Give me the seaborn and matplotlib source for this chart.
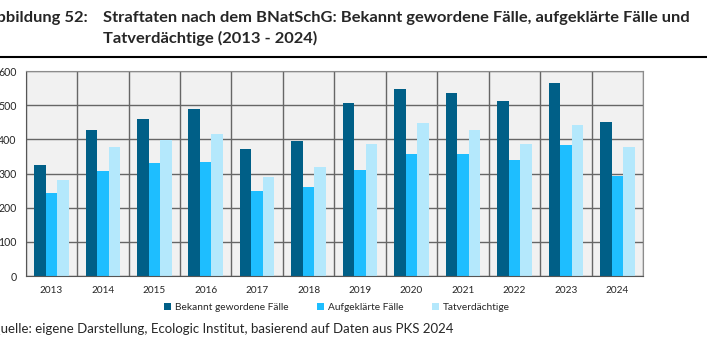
import matplotlib
matplotlib.use("Agg")
import matplotlib.pyplot as plt
import seaborn as sns
import pandas as pd
import numpy as np

years = ["2013", "2014", "2015", "2016", "2017", "2018", "2019", "2020", "2021", "2022", "2023", "2024"]
bekannt = [325, 426, 461, 488, 372, 396, 506, 548, 536, 512, 566, 451]
aufgeklaert = [242, 307, 330, 334, 248, 260, 311, 358, 356, 339, 383, 292]
tatverdaechtige = [282, 377, 399, 417, 291, 319, 385, 449, 426, 387, 441, 377]

series_names = ["Bekannt gewordene Fälle", "Aufgeklärte Fälle", "Tatverdächtige"]
colors = ["#005f87", "#1ebeff", "#b4e8fc"]

df = pd.DataFrame({
    "Jahr": years * 3,
    "Wert": bekannt + aufgeklaert + tatverdaechtige,
    "Serie": [series_names[0]] * 12 + [series_names[1]] * 12 + [series_names[2]] * 12,
})

sns.set_style("white")
plt.rcParams["font.family"] = ["Lato", "DejaVu Sans"]

fig = plt.figure(figsize=(7.07, 3.54), dpi=100)
ax = fig.add_axes([0.0363, 0.2203, 0.8732, 0.5791])
ax.set_facecolor("#f1f1f1")

sns.barplot(data=df, x="Jahr", y="Wert", hue="Serie", palette=colors,
            width=0.67, ax=ax, saturation=1, legend=True, linewidth=0)

ax.set_xlim(-0.5, 11.5)
ax.set_ylim(0, 600)
ax.set_yticks(np.arange(0, 601, 100))
ax.set_xticks(np.arange(-0.5, 12, 1), minor=True)
ax.grid(axis="y", which="major", color="#666666", linewidth=1)
ax.grid(axis="x", which="minor", color="#666666", linewidth=1)
ax.grid(axis="x", which="major", visible=False)
ax.set_axisbelow(True)
ax.tick_params(axis="x", which="major", length=0, labelsize=7.2, pad=7)
ax.tick_params(axis="x", which="minor", length=3, color="#555555")
ax.tick_params(axis="y", length=3, color="#555555", labelsize=7.6, pad=3.5)
for s in ax.spines.values():
    s.set_color("#8c8c8c")
ax.spines["bottom"].set_color("#555555")
ax.spines["left"].set_color("#555555")
ax.set_xlabel("")
ax.set_ylabel("")

ax.legend(loc="upper center", bbox_to_anchor=(0.504, -0.085), ncol=3, frameon=False,
          fontsize=7.3, handlelength=0.7, handleheight=0.7, handletextpad=0.4,
          columnspacing=2.8)

fig.text(88 / 707, 1 - 18 / 354, "Abbildung 52:", ha="right", va="center",
         fontsize=11.85, fontweight="bold")
fig.text(103 / 707, 1 - 18 / 354,
         "Straftaten nach dem BNatSchG: Bekannt gewordene Fälle, aufgeklärte Fälle und",
         ha="left", va="center", fontsize=11.85, fontweight="bold")
fig.text(103 / 707, 1 - 38 / 354, "Tatverdächtige (2013 - 2024)",
         ha="left", va="center", fontsize=11.85, fontweight="bold")
fig.add_artist(plt.Line2D([0, 1], [1 - 57 / 354, 1 - 57 / 354], color="black", linewidth=1.5))

fig.text(-10 / 707, 1 - 329 / 354,
         "Quelle: eigene Darstellung, Ecologic Institut, basierend auf Daten aus PKS 2024",
         ha="left", va="center", fontsize=9.5)

fig.savefig("out.png", dpi=100)
